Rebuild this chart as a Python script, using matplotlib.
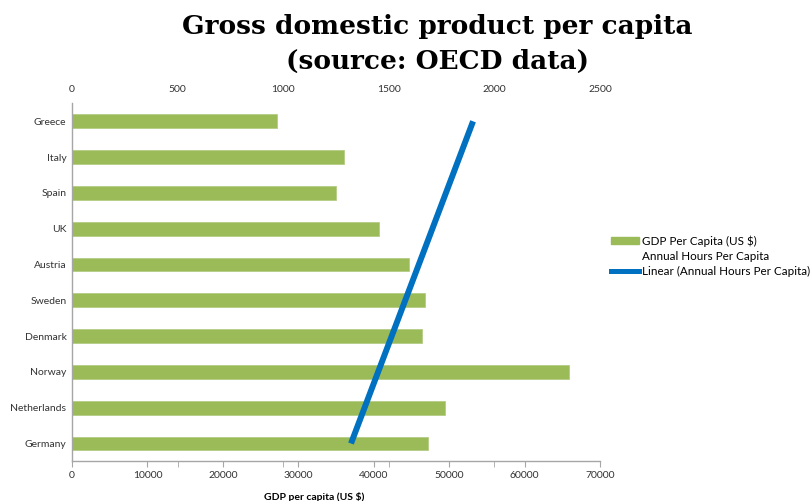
import matplotlib.pyplot as plt
from matplotlib.patches import Patch
from matplotlib.lines import Line2D

# GDP per capita by country, listed top to bottom
countries = ['Greece', 'Italy', 'Spain', 'UK', 'Austria', 'Sweden',
             'Denmark', 'Norway', 'Netherlands', 'Germany']
gdp = [27200, 36100, 35000, 40700, 44700, 46800, 46400, 65900, 49400, 47200]

# linear trend of annual hours per capita (Greece end, Germany end)
trend_hours = [1899, 1321]

green = '#9BBB59'
blue = '#0070C0'
grey = '#A6A6A6'

plt.rcParams['font.family'] = ['Lato', 'DejaVu Sans']

fig = plt.figure(figsize=(8.11, 5.01), dpi=100)
ax = fig.add_axes([72 / 811, 39.6 / 501, 528 / 811, 358 / 501])

ypos = list(range(len(countries)))
ax.barh(ypos, gdp, height=0.39, color=green, edgecolor='#B5CD85', linewidth=0.6, zorder=2)
ax.set_ylim(len(countries) - 0.5, -0.5)
ax.set_yticks(ypos)
ax.set_yticklabels(countries, fontsize=7.5, color='#333333')
ax.tick_params(axis='y', length=0, pad=4)

ax.set_xlim(0, 70000)
ax.set_xticks(range(0, 70001, 10000))
ax.set_xticks(range(14000, 70001, 14000), minor=True)
ax.tick_params(axis='x', which='both', length=4, color=grey, labelsize=7.5,
               labelcolor='#333333', pad=3)
for s in ['top', 'right']:
    ax.spines[s].set_visible(False)
for s in ['left', 'bottom']:
    ax.spines[s].set_color(grey)
    ax.spines[s].set_linewidth(1.0)
ax.set_xlabel('GDP per capita (US $)', fontsize=7.5, fontweight='bold')
ax.xaxis.set_label_coords(0.458, -0.085)

top = ax.twiny()
top.set_xlim(0, 2500)
top.set_xticks(range(0, 2501, 500))
top.tick_params(axis='x', length=0, labelsize=7.5, labelcolor='#333333', pad=6.5)
for s in top.spines.values():
    s.set_visible(False)
top.plot(trend_hours, [0, len(countries) - 1], color=blue, linewidth=4.3,
         solid_capstyle='butt', zorder=3)

handles = [Patch(facecolor=green, edgecolor=green),
           Line2D([], [], color='none'),
           Line2D([], [], color=blue, linewidth=3.6)]
labels = ['GDP Per Capita (US $)', 'Annual Hours Per Capita',
          'Linear (Annual Hours Per Capita)']
fig.legend(handles, labels, loc='center left', bbox_to_anchor=(611 / 811, 1 - 256 / 501),
           frameon=False, fontsize=8.4, handlelength=2.4, handleheight=0.45,
           handletextpad=0.25, labelspacing=0.35, borderpad=0, borderaxespad=0)

fig.text(437 / 811, 1 - 44 / 501, 'Gross domestic product per capita\n(source: OECD data)',
         ha='center', va='center', fontsize=19, fontweight='bold',
         family='DejaVu Serif', linespacing=1.52)

fig.savefig('out.png', dpi=100)
